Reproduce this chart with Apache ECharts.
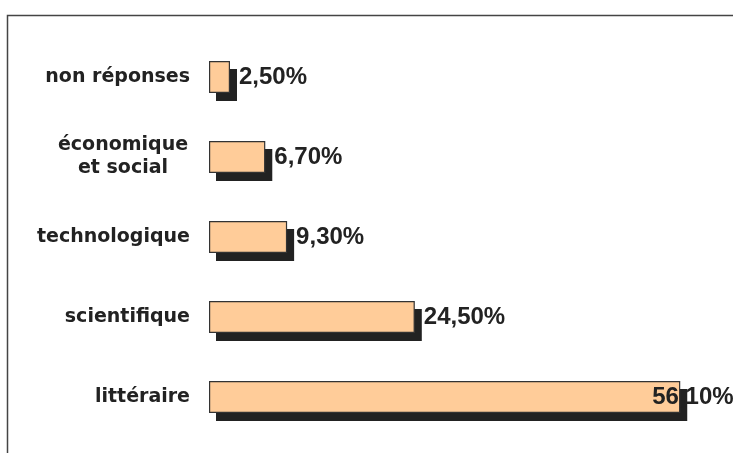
<!DOCTYPE html>
<html>
<head>
<meta charset="utf-8">
<script src="https://cdn.jsdelivr.net/npm/echarts@6/dist/echarts.min.js"></script>
<style>
  html, body { margin: 0; padding: 0; background: #fff; }
  #main { width: 733px; height: 453px; }
</style>
</head>
<body>
<div id="main"></div>
<script>
// catégories, de haut en bas
var categories = ['non réponses', 'économique\net social', 'technologique', 'scientifique', 'littéraire'];
var values = [2.5, 6.7, 9.3, 24.5, 56.1];

var chart = echarts.init(document.getElementById('main'));

function fmt(v) {
  return v.toFixed(2).replace('.', ',') + '%';
}

var labelFont = {
  color: '#222',
  fontFamily: 'DejaVu Sans',
  fontWeight: 'bold',
  fontSize: 19,
  lineHeight: 23
};

var option = {
  backgroundColor: '#fff',
  animation: false,
  graphic: [{
    type: 'rect',
    shape: { x: 7.5, y: 15.5, width: 800, height: 500 },
    style: { fill: 'none', stroke: '#444', lineWidth: 1.5 },
    z: -1
  }],
  // grille 0 : barres, grille 1 : ombre décalée
  grid: [
    { left: 209, right: 20, top: 37, bottom: 16 },
    { left: 216, right: 13, top: 45, bottom: 8 }
  ],
  xAxis: [
    { type: 'value', gridIndex: 0, min: 0, max: 60, show: false, splitLine: { show: false } },
    { type: 'value', gridIndex: 1, min: 0, max: 60, show: false, splitLine: { show: false } }
  ],
  yAxis: [{
    type: 'category',
    gridIndex: 0,
    inverse: true,
    data: categories,
    axisLine: { show: false },
    axisTick: { show: false },
    axisLabel: Object.assign({
      margin: 19,
      formatter: function (v) {
        var lines = v.split('\n');
        if (lines.length === 1) return v;
        return lines.map(function (l) { return '{c|' + l + '}'; }).join('\n');
      },
      rich: {
        c: Object.assign({ width: 134, align: 'center' }, labelFont)
      }
    }, labelFont)
  }, {
    type: 'category',
    gridIndex: 1,
    inverse: true,
    data: categories,
    show: false
  }],
  series: [{
    type: 'bar',
    xAxisIndex: 1,
    yAxisIndex: 1,
    barWidth: 32,
    z: 1,
    silent: true,
    data: values,
    itemStyle: { color: '#222' }
  }, {
    type: 'bar',
    xAxisIndex: 0,
    yAxisIndex: 0,
    barWidth: 32,
    z: 2,
    data: values.map(function (v) {
      var item = { value: v };
      // la dernière étiquette est ramenée dans le cadre
      if (v > 50) item.label = { offset: [-37, 0] };
      return item;
    }),
    itemStyle: {
      color: '#FFCC99',
      borderColor: '#333',
      borderWidth: 1.2
    },
    label: {
      show: true,
      position: 'right',
      distance: 9,
      color: '#222',
      fontFamily: 'Liberation Sans',
      fontWeight: 'bold',
      fontSize: 24,
      formatter: function (p) { return fmt(p.value); }
    }
  }]
};

chart.setOption(option);
</script>
</body>
</html>
